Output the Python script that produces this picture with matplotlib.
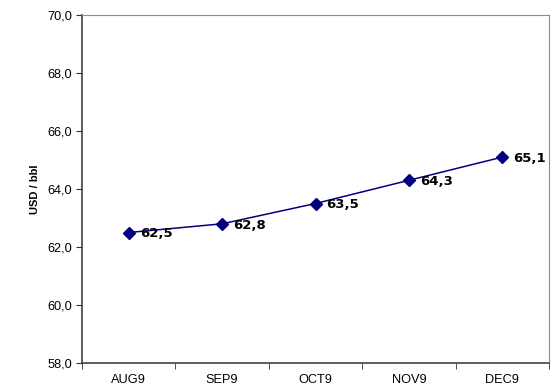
import matplotlib
matplotlib.use("Agg")
import matplotlib.pyplot as plt
import numpy as np

months = ["AUG9", "SEP9", "OCT9", "NOV9", "DEC9"]
prices = [62.5, 62.8, 63.5, 64.3, 65.1]
yticks = [58, 60, 62, 64, 66, 68, 70]

fig = plt.figure(figsize=(5.58, 3.87), dpi=100)
ax = fig.add_axes([82 / 558, 1 - 363 / 387, (549 - 82) / 558, (363 - 15) / 387])

x = np.arange(len(months))
ax.plot(x, prices, color="#000080", lw=1.1, marker="D", ms=6.5, zorder=3)

for xi, v in zip(x, prices):
    ax.annotate(f"{v:.1f}".replace(".", ","), (xi, v), xytext=(8, -1),
                textcoords="offset points", ha="left", va="center",
                fontsize=9.5, fontweight="bold", family="DejaVu Sans", color="black")

ax.set_xlim(-0.5, len(months) - 0.5)
ax.set_ylim(58, 70)
ax.set_yticks(yticks)
ax.set_yticklabels([f"{t:.1f}".replace(".", ",") for t in yticks],
                   family="Liberation Sans", fontsize=9.2)
ax.set_xticks(x)
ax.set_xticklabels(months, family="Liberation Sans", fontsize=9.2)
ax.set_xticks(np.arange(-0.5, len(months), 1), minor=True)
ax.tick_params(axis="x", which="major", length=0, pad=8)
ax.tick_params(axis="x", which="minor", length=4, direction="out", color="#333333")
ax.tick_params(axis="y", length=4, direction="out", color="#333333", pad=3)

for side in ("left", "bottom"):
    ax.spines[side].set_color("#333333")
    ax.spines[side].set_linewidth(1.1)
for side in ("top", "right"):
    ax.spines[side].set_color("#8c8c8c")
    ax.spines[side].set_linewidth(0.8)

ax.set_ylabel("USD / bbl", family="Liberation Sans", fontsize=8, fontweight="bold", labelpad=5)

fig.savefig("out.png", dpi=100)
